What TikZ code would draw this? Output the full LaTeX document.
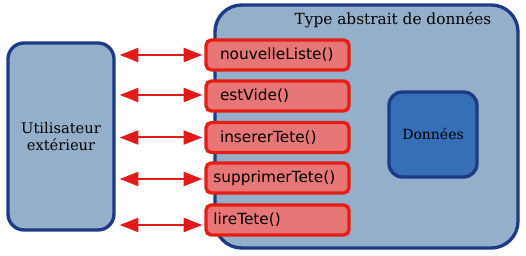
\documentclass[tikz,border=0pt]{standalone}
\usepackage{fontspec}
\setmainfont{DejaVu Serif}
\newfontfamily\methodfont{DejaVu Sans}
\usetikzlibrary{arrows.meta, positioning}
\definecolor{adtblue}{HTML}{93AFC9}
\definecolor{adtdark}{HTML}{1C3A85}
\definecolor{adtdata}{HTML}{366FB6}
\definecolor{adtred}{HTML}{E41E12}
\definecolor{adtredlight}{HTML}{E77777}
\definecolor{adtarrow}{HTML}{E21A1C}

\begin{document}
\begin{tikzpicture}[x=0.75pt, y=-0.75pt,
  panel/.style={draw=adtdark, fill=adtblue, line width=2.5pt, rounded corners=12pt},
  method/.style={draw=adtred, fill=adtredlight, line width=2.5pt, rounded corners=4pt,
    inner xsep=#1, text width=107.25pt-2*#1, align=left, minimum height=22.5pt,
    font=\methodfont\fontsize{11.5}{13}\selectfont},
  method/.default=10.5pt,
  link/.style={draw=adtarrow, line width=1.5pt, shorten >=1.5pt, shorten <=3pt,
    {Triangle[length=14pt, width=10.5pt]}-{Triangle[length=14pt, width=10.5pt]}}
]
\useasboundingbox (0,0) rectangle (526,256);

% the whole abstract type
\node[panel, rounded corners=20pt, minimum width=303*0.75pt, minimum height=243*0.75pt] (adt) at (366.5,126.5) {};
\node[font=\fontsize{11.5}{13}\selectfont] (titre) at (393,20) {Type abstrait de données};

% outside user and hidden data
\node[panel, minimum width=106*0.75pt, minimum height=187*0.75pt, align=center,
  font=\fontsize{11}{13}\selectfont] (user) at (61,136.5) {Utilisateur\\extérieur};
\node[panel, fill=adtdata, minimum width=88*0.75pt, minimum height=85*0.75pt, rounded corners=10pt,
  font=\fontsize{10.5}{12}\selectfont] (data) at (433,134.5) {Données};

% interface operations
\node[method=10.5pt] (m1) at (277.5,55) {nouvelleListe()};
\node[method=10.5pt] (m2) at (277.5,96) {estVide()};
\node[method=10.5pt] (m3) at (277.5,137.5) {insererTete()};
\node[method=5.5pt] (m4) at (277.5,178) {supprimerTete()};
\node[method=5.5pt] (m5) at (277.5,220) {lireTete()};

% calls between user and operations
\foreach \m/\dy in {m1/0, m2/1, m3/0, m4/-1, m5/-5}{
  \draw[link] ([yshift=\dy*0.75pt]user.east |- \m.west) -- ([yshift=\dy*0.75pt]\m.west);
}
\end{tikzpicture}
\end{document}
